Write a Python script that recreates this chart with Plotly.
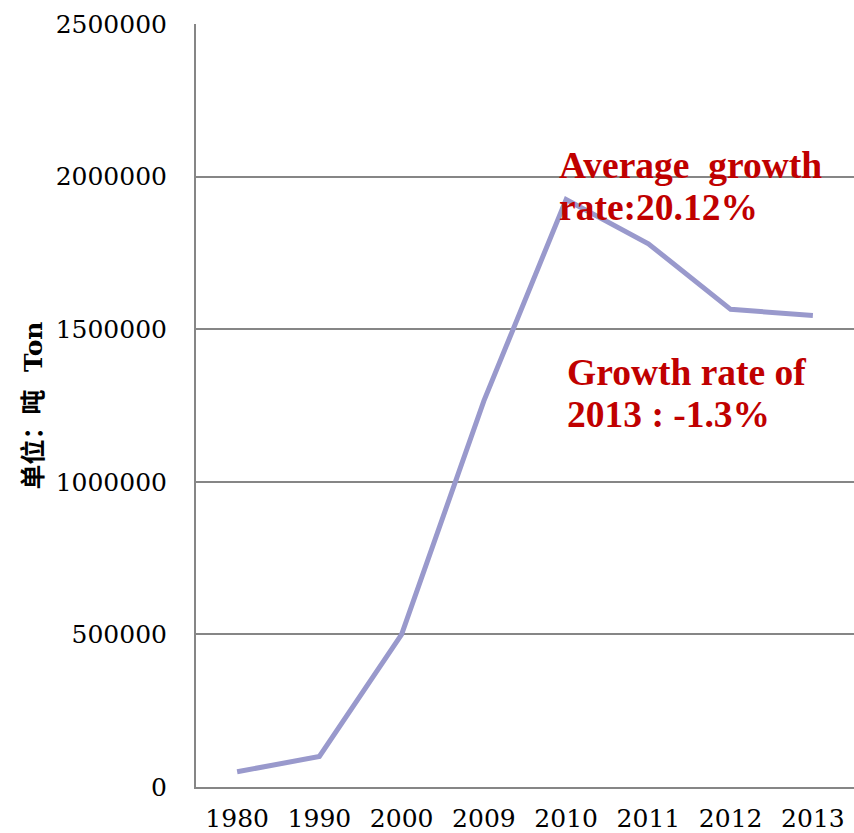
import plotly.graph_objects as go

years = ["1980", "1990", "2000", "2009", "2010", "2011", "2012", "2013"]
tons = [50000, 100000, 500000, 1265000, 1925000, 1780000, 1565000, 1545000]
y_ticks = [0, 500000, 1000000, 1500000, 2000000, 2500000]
y_title = "单位：吨  Ton"
notes = [
    ("Average  growth", 0.548, 0.814),
    ("rate:20.12%", 0.548, 0.759),
    ("Growth rate of", 0.561, 0.543),
    ("2013 : -1.3%", 0.561, 0.488),
]

fig = go.Figure()
fig.add_trace(go.Scatter(
    x=years, y=tons, mode="lines",
    line=dict(color="#9999cc", width=5),
    hoverinfo="skip", showlegend=False,
))

for text, xp, yp in notes:
    fig.add_annotation(
        text=text, xref="paper", yref="paper", x=xp, y=yp,
        xanchor="left", yanchor="middle", showarrow=False,
        font=dict(family="Liberation Serif", size=37.5, color="#c00000", weight="bold"),
    )

fig.update_layout(
    width=854, height=833,
    margin=dict(l=196, r=0, t=24, b=39),
    paper_bgcolor="white", plot_bgcolor="white",
    font=dict(family="DejaVu Serif", size=25, color="black"),
)
fig.update_xaxes(
    type="category", range=[-0.5, 7.5],
    showline=True, linecolor="#868686", linewidth=2,
    showgrid=False, ticks="", ticklabelstandoff=8,
    tickfont=dict(family="DejaVu Serif", size=25, color="black"),
)
fig.update_yaxes(
    range=[0, 2500000], tickvals=y_ticks, ticktext=[str(v) for v in y_ticks],
    showline=True, linecolor="#868686", linewidth=2,
    showgrid=True, gridcolor="#868686", gridwidth=1.5,
    zeroline=False, ticks="", ticklabelstandoff=22,
    tickfont=dict(family="DejaVu Serif", size=25, color="black"),
    title=dict(text=y_title, standoff=6,
               font=dict(family="DejaVu Serif, Noto Sans CJK SC", size=25, color="black", weight="bold")),
)

fig.write_html("out.html")
